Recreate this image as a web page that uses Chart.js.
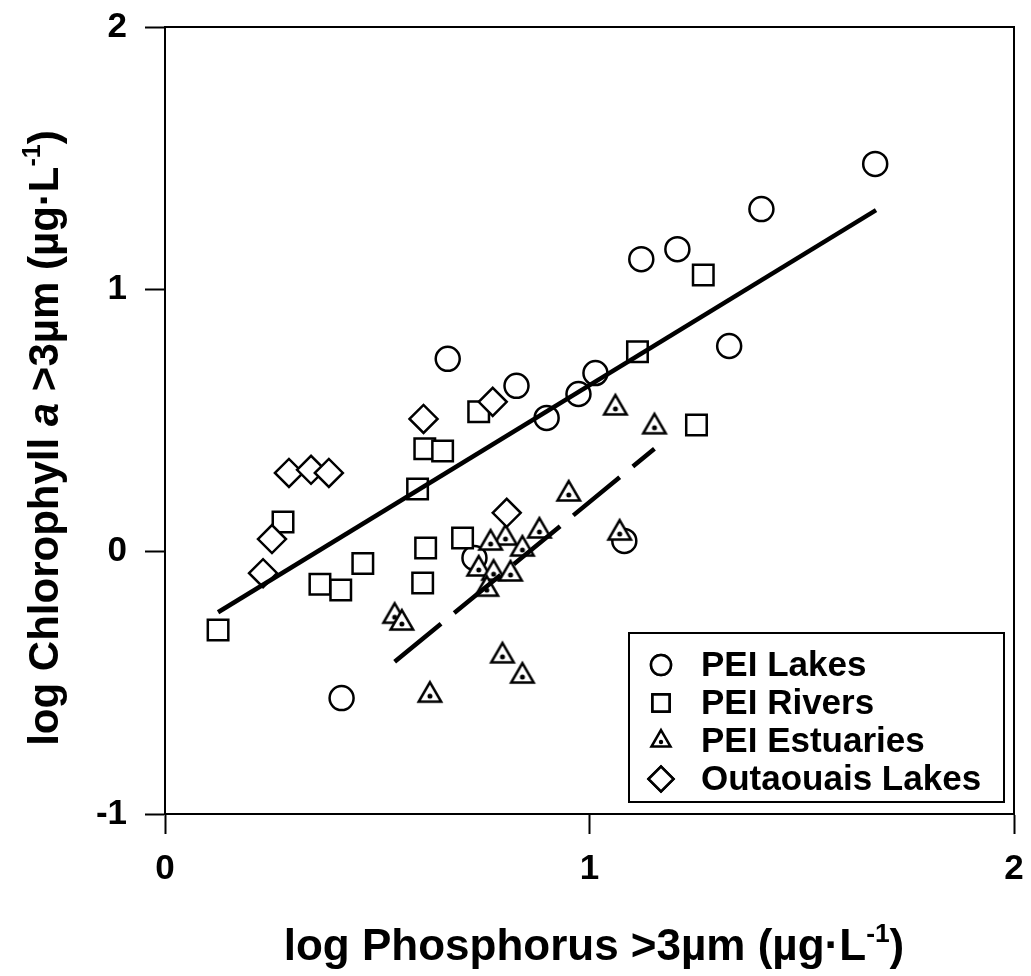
<!DOCTYPE html>
<html>
<head>
<meta charset="utf-8">
<script src="https://cdn.jsdelivr.net/npm/chart.js@4/dist/chart.umd.min.js"></script>
<style>
  html, body { margin: 0; padding: 0; background: #fff; }
</style>
</head>
<body>
<canvas id="scatterChart" width="1031" height="976"></canvas>
<script>
// series (log P vs log Chl a, >3um fraction)
const seriesNames = ['PEI Lakes', 'PEI Rivers', 'PEI Estuaries', 'Outaouais Lakes'];

const lakesX = [1.673, 1.405, 1.207, 1.122, 1.329, 0.666, 0.828, 1.014, 0.974, 0.899, 0.729, 1.082, 0.416];
const lakesY = [1.478, 1.306, 1.153, 1.115, 0.784, 0.735, 0.632, 0.681, 0.601, 0.510, -0.024, 0.041, -0.558];

const riversX = [0.125, 0.278, 0.365, 0.414, 0.466, 0.595, 0.612, 0.654, 0.614, 0.607, 0.701, 0.739, 1.113, 1.252, 1.268];
const riversY = [-0.299, 0.113, -0.124, -0.146, -0.045, 0.239, 0.392, 0.384, 0.014, -0.119, 0.052, 0.533, 0.762, 0.483, 1.055];

const estuariesX = [1.061, 1.153, 0.951, 0.882, 0.802, 0.767, 0.842, 0.739, 0.774, 0.814, 0.758, 0.541, 0.558, 0.795, 0.842, 0.624, 1.071];
const estuariesY = [0.548, 0.476, 0.220, 0.079, 0.052, 0.033, 0.010, -0.066, -0.082, -0.085, -0.143, -0.246, -0.272, -0.397, -0.474, -0.547, 0.071];

const outaouaisX = [0.292, 0.344, 0.386, 0.252, 0.231, 0.609, 0.772, 0.805];
const outaouaisY = [0.300, 0.312, 0.300, 0.048, -0.082, 0.506, 0.571, 0.148];

// fitted lines (end points as drawn)
const allFitX = [0.125, 1.675];
const allFitY = [-0.231, 1.302];
const estFitX = [0.541, 1.153];
const estFitY = [-0.420, 0.392];

const xTicks = [0, 1, 2];
const yTicks = [-1, 0, 1, 2];

const FONT = '"Liberation Sans", Arial, Helvetica, sans-serif';

const toPoints = (xs, ys) => xs.map((x, i) => ({ x: x, y: ys[i] }));

// open triangle with a dot in the middle, used as a point image
function makeTriangle(r, lw, dotR) {
    const size = 2 * Math.ceil(r + lw + 1);
    const c = document.createElement('canvas');
    c.width = size;
    c.height = size;
    const g = c.getContext('2d');
    const cx = size / 2, cy = size / 2;
    g.beginPath();
    for (let k = 0; k < 3; k++) {
        const a = -Math.PI / 2 + k * 2 * Math.PI / 3;
        const px = cx + Math.cos(a) * r, py = cy + Math.sin(a) * r;
        if (k === 0) g.moveTo(px, py); else g.lineTo(px, py);
    }
    g.closePath();
    g.fillStyle = '#fff';
    g.fill();
    g.lineWidth = lw;
    g.strokeStyle = '#000';
    g.stroke();
    g.beginPath();
    g.arc(cx, cy + 1, dotR, 0, Math.PI * 2);
    g.fillStyle = '#000';
    g.fill();
    return c;
}

const triangleMark = makeTriangle(13, 2.5, 2.5);
const triangleLegend = makeTriangle(11, 2.5, 2.2);

// frame around the plot (top + right sides)
const frame = {
    id: 'frame',
    afterDraw(chart) {
        const { ctx, chartArea: a } = chart;
        ctx.save();
        ctx.strokeStyle = '#000';
        ctx.lineWidth = 2;
        ctx.strokeRect(a.left, a.top, a.right - a.left, a.bottom - a.top);
        ctx.restore();
    }
};

// axis titles with italic "a" and superscript -1
function drawRich(ctx, parts, size) {
    let w = 0;
    parts.forEach(p => {
        ctx.font = (p.italic ? 'italic ' : '') + 'bold ' + (p.sup ? size * 0.6 : size) + 'px ' + FONT;
        p.w = ctx.measureText(p.t).width;
        w += p.w;
    });
    let x = -w / 2;
    parts.forEach(p => {
        ctx.font = (p.italic ? 'italic ' : '') + 'bold ' + (p.sup ? size * 0.6 : size) + 'px ' + FONT;
        ctx.fillText(p.t, x, p.sup ? -size * 0.42 : 0);
        x += p.w;
    });
}

const axisTitles = {
    id: 'axisTitles',
    afterDraw(chart) {
        const ctx = chart.ctx;
        ctx.save();
        ctx.fillStyle = '#000';
        ctx.textBaseline = 'alphabetic';
        ctx.textAlign = 'left';
        ctx.translate(594, 960);
        drawRich(ctx, [
            { t: 'log Phosphorus >3µm (µg·L' }, { t: '-1', sup: true }, { t: ')' }
        ], 44);
        ctx.restore();

        ctx.save();
        ctx.fillStyle = '#000';
        ctx.textBaseline = 'alphabetic';
        ctx.textAlign = 'left';
        ctx.translate(58, 438);
        ctx.rotate(-Math.PI / 2);
        drawRich(ctx, [
            { t: 'log Chlorophyll ' }, { t: 'a', italic: true }, { t: ' >3µm (µg·L' },
            { t: '-1', sup: true }, { t: ')' }
        ], 42);
        ctx.restore();
    }
};

// boxed legend in the lower right corner of the plot
const boxLegend = {
    id: 'boxLegend',
    afterDraw(chart) {
        const { ctx, chartArea: a } = chart;
        const w = 375, h = 169;
        const left = a.right - 10 - w, top = a.bottom - 12 - h;
        ctx.save();
        ctx.fillStyle = '#fff';
        ctx.fillRect(left, top, w, h);
        ctx.strokeStyle = '#000';
        ctx.lineWidth = 2;
        ctx.strokeRect(left, top, w, h);

        const styles = ['circle', 'rect', triangleLegend, 'rectRot'];
        const radii = [10, 12, 11, 12.5];
        ctx.font = 'bold 35px ' + FONT;
        ctx.textBaseline = 'middle';
        ctx.textAlign = 'left';
        seriesNames.forEach((name, i) => {
            const cy = top + 32 + i * 38;
            const cx = left + 32;
            ctx.lineWidth = 2.5;
            ctx.strokeStyle = '#000';
            ctx.fillStyle = '#fff';
            Chart.helpers.drawPoint(ctx, { pointStyle: styles[i], radius: radii[i], borderWidth: 2.5, rotation: 0 }, cx, cy);
            ctx.fill();
            ctx.stroke();
            ctx.fillStyle = '#000';
            ctx.fillText(name, left + 72, cy + 1);
        });
        ctx.restore();
    }
};

const ctx = document.getElementById('scatterChart').getContext('2d');

new Chart(ctx, {
    type: 'scatter',
    data: {
        datasets: [
            {
                label: seriesNames[0],
                data: toPoints(lakesX, lakesY),
                pointStyle: 'circle',
                pointRadius: 12,
                pointBorderWidth: 2.5,
                borderColor: '#000',
                backgroundColor: '#fff',
                order: 5
            },
            {
                label: seriesNames[1],
                data: toPoints(riversX, riversY),
                pointStyle: 'rect',
                pointRadius: 14.5,
                pointBorderWidth: 2.5,
                borderColor: '#000',
                backgroundColor: '#fff',
                order: 4
            },
            {
                label: seriesNames[2],
                data: toPoints(estuariesX, estuariesY),
                pointStyle: triangleMark,
                pointRadius: 13,
                borderColor: '#000',
                backgroundColor: '#fff',
                order: 3
            },
            {
                label: seriesNames[3],
                data: toPoints(outaouaisX, outaouaisY),
                pointStyle: 'rectRot',
                pointRadius: 14,
                pointBorderWidth: 2.5,
                borderColor: '#000',
                backgroundColor: '#fff',
                order: 2
            },
            {
                label: 'All sites fit',
                data: toPoints(allFitX, allFitY),
                showLine: true,
                pointRadius: 0,
                borderColor: '#000',
                borderWidth: 4.5,
                order: 1
            },
            {
                label: 'Estuaries fit',
                data: toPoints(estFitX, estFitY),
                showLine: true,
                pointRadius: 0,
                borderColor: '#000',
                borderWidth: 4.5,
                borderDash: [60, 17],
                order: 1
            }
        ]
    },
    options: {
        responsive: false,
        animation: false,
        events: [],
        layout: {
            padding: { top: 27, right: 16, left: 0, bottom: 0 }
        },
        plugins: {
            legend: { display: false },
            tooltip: { enabled: false }
        },
        scales: {
            x: {
                type: 'linear',
                min: 0,
                max: 2,
                afterFit: (scale) => {
                    scale.height = 162;
                    scale.paddingLeft = 0;
                    scale.paddingRight = 0;
                },
                afterBuildTicks: (scale) => { scale.ticks = xTicks.map(v => ({ value: v })); },
                border: { color: '#000', width: 2 },
                grid: {
                    drawOnChartArea: false,
                    drawTicks: true,
                    tickLength: 20,
                    tickColor: '#000',
                    tickWidth: 2
                },
                ticks: {
                    padding: 14,
                    color: '#000',
                    font: { family: FONT, size: 35, weight: 'bold' }
                }
            },
            y: {
                type: 'linear',
                min: -1,
                max: 2,
                afterFit: (scale) => {
                    scale.width = 165;
                    scale.paddingTop = 0;
                    scale.paddingBottom = 0;
                },
                afterBuildTicks: (scale) => { scale.ticks = yTicks.map(v => ({ value: v })); },
                border: { color: '#000', width: 2 },
                grid: {
                    drawOnChartArea: false,
                    drawTicks: true,
                    tickLength: 20,
                    tickColor: '#000',
                    tickWidth: 2
                },
                ticks: {
                    padding: 18,
                    color: '#000',
                    font: { family: FONT, size: 35, weight: 'bold' }
                }
            }
        }
    },
    plugins: [frame, axisTitles, boxLegend]
});
</script>
</body>
</html>
